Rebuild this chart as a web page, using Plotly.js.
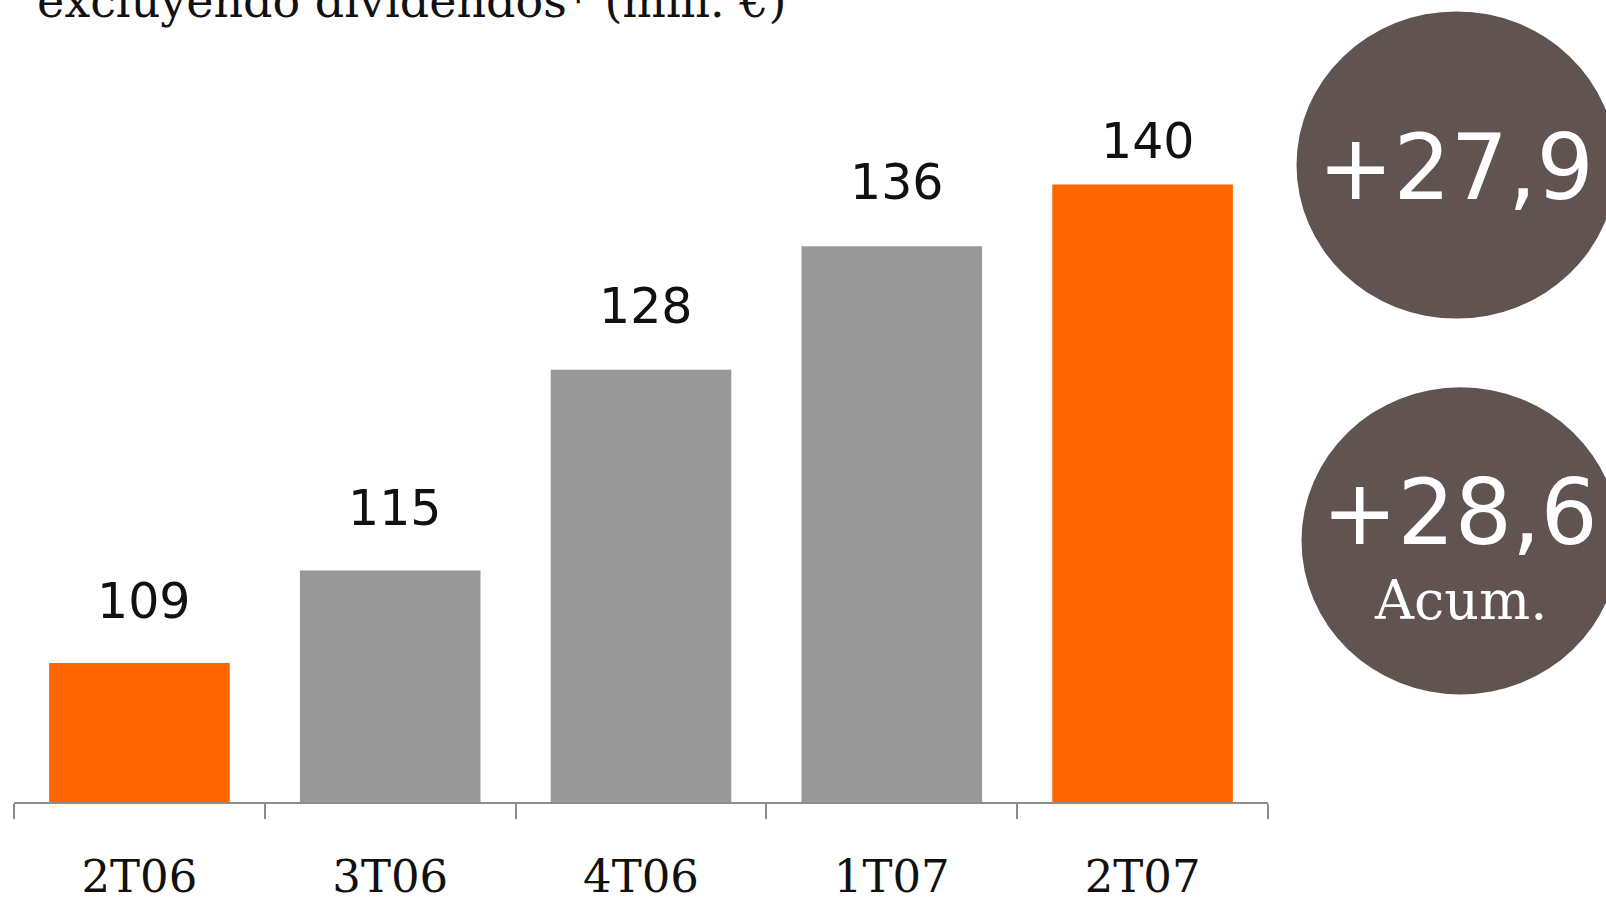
<!DOCTYPE html>
<html>
<head>
<meta charset="utf-8">
<script src="https://cdn.plot.ly/plotly-3.0.1.min.js"></script>
<style>html,body{margin:0;padding:0;background:#fff;overflow:hidden}#chart{width:1606px;height:897px}</style>
</head>
<body>
<div id="chart"></div>
<script>
const categories = ["2T06", "3T06", "4T06", "1T07", "2T07"];
const values = [109, 115, 128, 136, 140];
const barColors = ["#ff6600", "#989898", "#989898", "#989898", "#ff6600"];
const titleText = "excluyendo dividendos* (mill. €)";
const growthQuarter = "+27,9";
const growthAccum = "+28,6";
const accumLabel = "Acum.";

const W = 1606, H = 897;
const ml = 14, mr = 338, mt = 30, mb = 95;
const pw = W - ml - mr, ph = H - mt - mb;
const px = x => (x - ml) / pw;
const py = y => (H - mb - y) / ph;

const trace = {
  type: "bar",
  x: categories,
  y: values,
  base: 0,
  marker: {color: barColors, line: {width: 0}},
  hoverinfo: "none"
};

const labelShift = [31, 31, 33, 33, 12];
const annotations = categories.map((c, i) => ({
  x: c, y: values[i], xref: "x", yref: "y",
  text: String(values[i]), showarrow: false,
  yanchor: "bottom", yshift: labelShift[i], xshift: 5,
  font: {family: "DejaVu Sans", size: 49, color: "#111"}
}));

annotations.push({
  xref: "paper", yref: "paper", x: px(35), y: py(15), xanchor: "left", yanchor: "bottom",
  yshift: -15,
  text: titleText, showarrow: false,
  font: {family: "DejaVu Serif", size: 46, color: "#111"}
});

const ellipses = [
  {cx: 1456.5, cy: 165, rx: 160, ry: 153.6},
  {cx: 1460.5, cy: 540.8, rx: 159, ry: 153.6}
];
const shapes = ellipses.map(e => ({
  type: "circle", xref: "paper", yref: "paper",
  x0: px(e.cx - e.rx), x1: px(e.cx + e.rx),
  y0: py(e.cy + e.ry), y1: py(e.cy - e.ry),
  fillcolor: "#615350", line: {width: 0}, layer: "above"
}));

annotations.push({
  xref: "paper", yref: "paper", x: px(1456), y: py(168), xanchor: "center", yanchor: "middle",
  text: growthQuarter, showarrow: false,
  font: {family: "DejaVu Sans", size: 90, color: "#fff"}
});
annotations.push({
  xref: "paper", yref: "paper", x: px(1460), y: py(512), xanchor: "center", yanchor: "middle",
  text: growthAccum, showarrow: false,
  font: {family: "DejaVu Sans", size: 90, color: "#fff"}
});
annotations.push({
  xref: "paper", yref: "paper", x: px(1460), y: py(600), xanchor: "center", yanchor: "middle",
  text: accumLabel, showarrow: false,
  font: {family: "DejaVu Serif", size: 54, color: "#fff"}
});

const layout = {
  width: W, height: H,
  margin: {l: ml, r: mr, t: mt, b: mb, pad: 0},
  paper_bgcolor: "#fff", plot_bgcolor: "#fff",
  showlegend: false,
  bargap: 0.28,
  xaxis: {
    type: "category",
    showline: true, linecolor: "#8c8c8c", linewidth: 2,
    ticks: "outside", tickson: "boundaries", ticklen: 15, tickwidth: 2, tickcolor: "#8c8c8c",
    showgrid: false, zeroline: false,
    tickfont: {family: "DejaVu Serif", size: 45, color: "#111"},
    ticklabelstandoff: 34,
    fixedrange: true
  },
  yaxis: {
    range: [100, 150], visible: false, showgrid: false, zeroline: false, fixedrange: true
  },
  shapes: shapes,
  annotations: annotations
};

Plotly.newPlot("chart", [trace], layout, {displayModeBar: false, staticPlot: true});
</script>
</body>
</html>
